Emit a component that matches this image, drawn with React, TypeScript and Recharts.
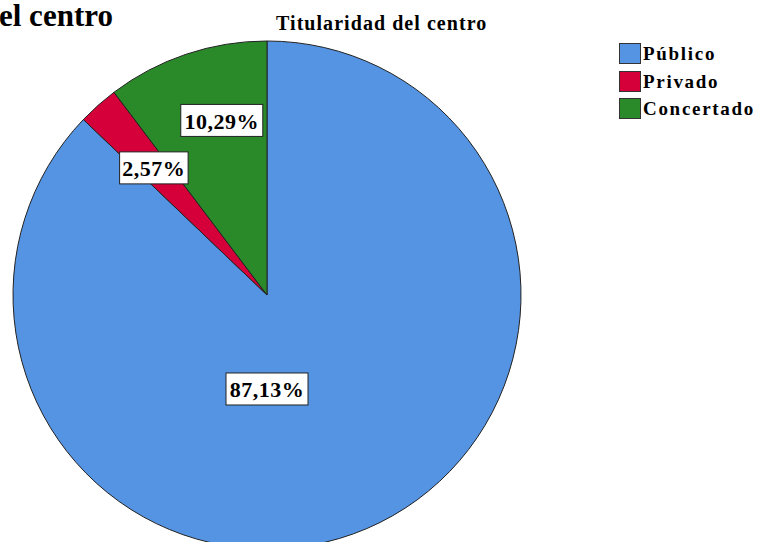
import { PieChart, Pie, Cell, Legend } from "recharts";

const categories = ["Público", "Privado", "Concertado"];
const percentages = [87.13, 2.57, 10.29];
const colors = ["#5594e3", "#d50039", "#2a8a2a"];

const data = categories.map((name, i) => ({ name, value: percentages[i] }));

const RADIAN = Math.PI / 180;
const serif = '"Liberation Serif", "Times New Roman", serif';

const renderLabel = (props: any) => {
  const { cx, cy, midAngle, outerRadius, percent, value } = props;
  let x: number;
  let y: number;
  if (percent > 0.5) {
    // the big slice gets its label straight below the centre
    x = cx;
    y = cy + outerRadius * 0.37;
  } else {
    // small slices: along the mid angle, a bit towards the vertical edge for thin wedges
    const r = outerRadius * (percent > 0.05 ? 0.71 : 0.67);
    const a = percent > 0.05 ? midAngle - 4 : midAngle;
    x = cx + r * Math.cos(-a * RADIAN);
    y = cy + r * Math.sin(-a * RADIAN);
  }
  const text = `${value.toFixed(2).replace(".", ",")}%`;
  const w = text.length * 13.5 + 1;
  const h = 32;
  return (
    <g>
      <rect x={x - w / 2} y={y - h / 2} width={w} height={h} fill="#fff" stroke="#222" strokeWidth={1} />
      <text
        x={x}
        y={y + 1}
        textAnchor="middle"
        dominantBaseline="central"
        style={{ fontFamily: serif, fontWeight: "bold", fontSize: 22, letterSpacing: 0.5 }}
        fill="#000"
      >
        {text}
      </text>
    </g>
  );
};

const renderLegend = (props: any) => {
  const payload = [...(props.payload || [])].sort(
    (a: any, b: any) => categories.indexOf(a.value) - categories.indexOf(b.value)
  );
  return (
    <div>
      {payload.map((entry: any, i: number) => (
        <div key={`leg-${i}`} style={{ display: "flex", alignItems: "center", height: 27.5 }}>
          <span
            style={{
              display: "inline-block",
              width: 20,
              height: 19,
              background: entry.color,
              border: "1px solid #333",
              marginRight: 2,
            }}
          />
          <span
            style={{
              fontFamily: serif,
              fontWeight: "bold",
              fontSize: 19,
              letterSpacing: 1.7,
              color: "#000",
              lineHeight: 1,
            }}
          >
            {entry.value}
          </span>
        </div>
      ))}
    </div>
  );
};

export default function App() {
  return (
    <div style={{ position: "absolute", left: 0, top: 0, width: 763, height: 560 }}>
      <div
        style={{
          position: "absolute",
          left: -1,
          top: 0,
          fontFamily: serif,
          fontWeight: "bold",
          fontSize: 31,
          lineHeight: 1,
          whiteSpace: "nowrap",
        }}
      >
        el centro
      </div>
      <div
        style={{
          position: "absolute",
          left: 276,
          top: 13,
          fontFamily: serif,
          fontWeight: "bold",
          fontSize: 20,
          letterSpacing: 1.05,
          lineHeight: 1,
          whiteSpace: "nowrap",
        }}
      >
        Titularidad del centro
      </div>
      <PieChart width={763} height={560} margin={{ top: 0, right: 0, bottom: 0, left: 0 }}>
        <Pie
          data={data}
          dataKey="value"
          nameKey="name"
          cx={267}
          cy={295}
          outerRadius={254}
          startAngle={90}
          endAngle={-270}
          stroke="#222"
          strokeWidth={1}
          labelLine={false}
          label={renderLabel}
          isAnimationActive={false}
        >
          {data.map((entry, index) => (
            <Cell key={`cell-${index}`} fill={colors[index]} />
          ))}
        </Pie>
        <Legend
          layout="vertical"
          verticalAlign="top"
          align="right"
          content={renderLegend}
          wrapperStyle={{ top: 40, left: 619, right: "auto", width: 144 }}
        />
      </PieChart>
    </div>
  );
}
